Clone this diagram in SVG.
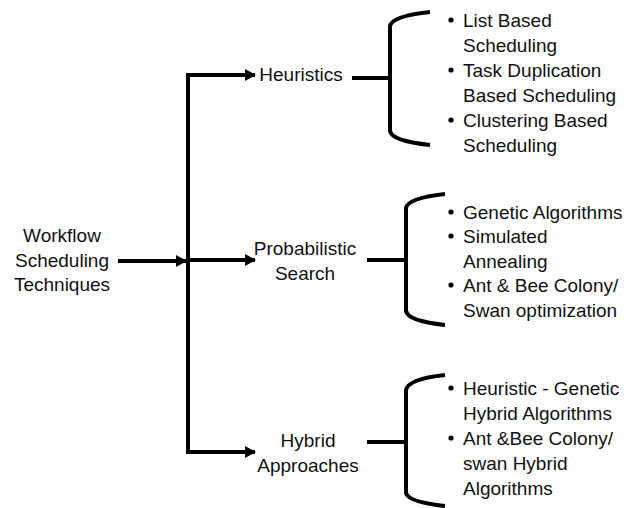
<svg xmlns="http://www.w3.org/2000/svg" width="627" height="508" viewBox="0 0 627 508">
<defs>
<marker id="ah" markerWidth="12" markerHeight="12" refX="10" refY="6" orient="auto" markerUnits="userSpaceOnUse">
<path d="M0,0 L11,6 L0,12 Z" fill="#000"/>
</marker>
<style>
text{font-family:"Liberation Sans",Arial,sans-serif;font-size:19px;fill:#111}
.c{text-anchor:middle}
.ln{stroke:#000;stroke-width:4;fill:none}
.br{stroke:#000;stroke-width:4;fill:none}
</style>
</defs>
<rect width="627" height="508" fill="#fff"/>
<g id="connectors">
<path class="ln" d="M188,75 L188,452"/>
<path class="ln" d="M186,75 L255,75" marker-end="url(#ah)"/>
<path class="ln" d="M118,261 L186,261" marker-end="url(#ah)"/>
<path class="ln" d="M188,260 L255,260" marker-end="url(#ah)"/>
<path class="ln" d="M186,452 L255,452" marker-end="url(#ah)"/>
<path class="ln" d="M352,78 L390,78"/>
<path class="ln" d="M367,260 L406,260"/>
<path class="ln" d="M367,442 L406,442"/>
</g>
<g id="root">
<text class="c" x="62" y="242">Workflow</text>
<text class="c" x="62" y="267">Scheduling</text>
<text class="c" x="62" y="291">Techniques</text>
</g>
<g id="heuristics">
<text class="c" x="301" y="81">Heuristics</text>
</g>
<g id="probabilistic">
<text class="c" x="305" y="255">Probabilistic</text>
<text class="c" x="305" y="280">Search</text>
</g>
<g id="hybrid">
<text class="c" x="308" y="447">Hybrid</text>
<text class="c" x="308" y="472">Approaches</text>
</g>
<g id="heuristics-list">
<path class="br" d="M430,12 Q392,16 390,26 L390,131 Q392,141 430,145"/>
<circle cx="451" cy="20" r="2.6"/><text x="463" y="27">List Based</text>
<text x="463" y="52">Scheduling</text>
<circle cx="451" cy="70" r="2.6"/><text x="463" y="77">Task Duplication</text>
<text x="463" y="102">Based Scheduling</text>
<circle cx="451" cy="120" r="2.6"/><text x="463" y="127">Clustering Based</text>
<text x="463" y="152">Scheduling</text>
</g>
<g id="probabilistic-list">
<path class="br" d="M445,194 Q408,198 406,208 L406,311 Q408,321 445,325"/>
<circle cx="451" cy="212" r="2.6"/><text x="463" y="219">Genetic Algorithms</text>
<circle cx="451" cy="236" r="2.6"/><text x="463" y="243">Simulated</text>
<text x="463" y="268">Annealing</text>
<circle cx="451" cy="285" r="2.6"/><text x="463" y="292">Ant &amp; Bee Colony/</text>
<text x="463" y="317">Swan optimization</text>
</g>
<g id="hybrid-list">
<path class="br" d="M445,375 Q408,379 406,390 L406,493 Q408,502 445,506"/>
<circle cx="451" cy="388" r="2.6"/><text x="463" y="395">Heuristic - Genetic</text>
<text x="463" y="420">Hybrid Algorithms</text>
<circle cx="451" cy="438" r="2.6"/><text x="463" y="445">Ant &amp;Bee Colony/</text>
<text x="463" y="470">swan Hybrid</text>
<text x="463" y="495">Algorithms</text>
</g>
</svg>
